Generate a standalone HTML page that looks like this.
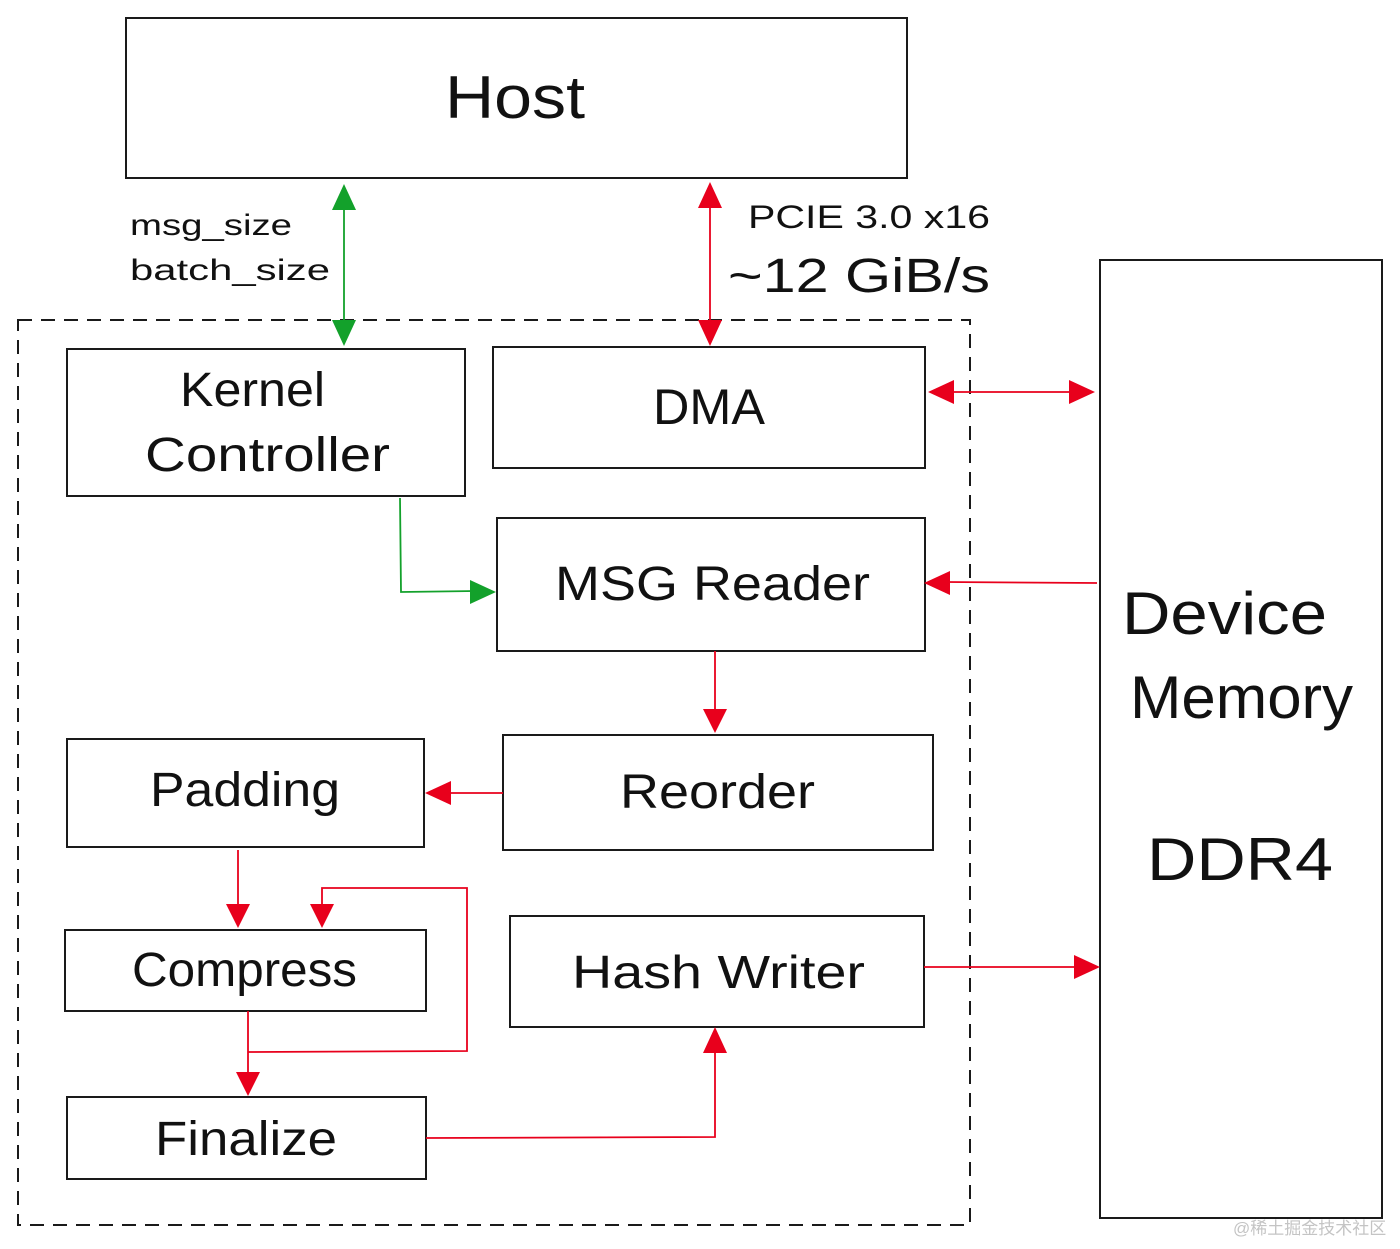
<!DOCTYPE html>
<html><head><meta charset="utf-8"><style>
html,body{margin:0;padding:0;background:#fff;}
svg text{font-family:"Liberation Sans","Noto Sans CJK SC",sans-serif;fill:#111;}
</style></head><body>
<svg width="1400" height="1244" viewBox="0 0 1400 1244" xmlns="http://www.w3.org/2000/svg">
<g fill="none" stroke="#1a1a1a" stroke-width="2">
<rect x="126" y="18" width="781" height="160"/>
<rect x="18" y="320" width="952" height="905" stroke-dasharray="14 9"/>
<rect x="67" y="349" width="398" height="147"/>
<rect x="493" y="347" width="432" height="121"/>
<rect x="497" y="518" width="428" height="133"/>
<rect x="503" y="735" width="430" height="115"/>
<rect x="67" y="739" width="357" height="108"/>
<rect x="65" y="930" width="361" height="81"/>
<rect x="510" y="916" width="414" height="111"/>
<rect x="67" y="1097" width="359" height="82"/>
<rect x="1100" y="260" width="282" height="958"/>
</g>
<g fill="none" stroke-width="1.8">
<path d="M344,200 L344,330" stroke="#13a12b"/>
<path d="M400,498 L401,592 L476,591" stroke="#13a12b"/>
<g stroke="#e8001c">
<path d="M710,200 L710,330"/>
<path d="M945,392 L1075,392"/>
<path d="M1097,583 L945,582"/>
<path d="M715,651 L715,712"/>
<path d="M503,793 L445,793"/>
<path d="M238,850 L238,908"/>
<path d="M248,1052 L467,1051 L467,888 L322,888 L322,908"/>
<path d="M248,1011 L248,1076"/>
<path d="M426,1138 L715,1137 L715,1048"/>
<path d="M924,967 L1080,967"/>
</g>
</g>
<g fill="#13a12b">
<polygon points="344,184 332,210 356,210"/>
<polygon points="344,346 332,320 356,320"/>
<polygon points="496,592 470,580 470,604"/>
</g>
<g fill="#e8001c">
<polygon points="710,182 698,208 722,208"/>
<polygon points="710,346 698,320 722,320"/>
<polygon points="928,392 954,380 954,404"/>
<polygon points="1095,392 1069,380 1069,404"/>
<polygon points="924,583 950,571 950,595"/>
<polygon points="715,733 703,709 727,709"/>
<polygon points="425,793 451,781 451,805"/>
<polygon points="238,928 226,904 250,904"/>
<polygon points="322,928 310,904 334,904"/>
<polygon points="248,1096 236,1072 260,1072"/>
<polygon points="715,1027 703,1053 727,1053"/>
<polygon points="1100,967 1074,955 1074,979"/>
</g>
<g lengthAdjust="spacingAndGlyphs">
<text x="445" y="118" font-size="60" textLength="140" lengthAdjust="spacingAndGlyphs">Host</text>
<text x="180" y="406" font-size="48" textLength="145" lengthAdjust="spacingAndGlyphs">Kernel</text>
<text x="145" y="471" font-size="48" textLength="245" lengthAdjust="spacingAndGlyphs">Controller</text>
<text x="653" y="424" font-size="50" textLength="112" lengthAdjust="spacingAndGlyphs">DMA</text>
<text x="555" y="600" font-size="48" textLength="315" lengthAdjust="spacingAndGlyphs">MSG Reader</text>
<text x="620" y="808" font-size="48" textLength="195" lengthAdjust="spacingAndGlyphs">Reorder</text>
<text x="150" y="806" font-size="48" textLength="190" lengthAdjust="spacingAndGlyphs">Padding</text>
<text x="132" y="986" font-size="48" textLength="225" lengthAdjust="spacingAndGlyphs">Compress</text>
<text x="572" y="988" font-size="46" textLength="293" lengthAdjust="spacingAndGlyphs">Hash Writer</text>
<text x="155" y="1155" font-size="48" textLength="182" lengthAdjust="spacingAndGlyphs">Finalize</text>
<text x="1122" y="634" font-size="60" textLength="205" lengthAdjust="spacingAndGlyphs">Device</text>
<text x="1130" y="718" font-size="60" textLength="223" lengthAdjust="spacingAndGlyphs">Memory</text>
<text x="1147" y="880" font-size="60" textLength="186" lengthAdjust="spacingAndGlyphs">DDR4</text>
<text x="130" y="235" font-size="30" textLength="162" lengthAdjust="spacingAndGlyphs">msg_size</text>
<text x="130" y="280" font-size="30" textLength="200" lengthAdjust="spacingAndGlyphs">batch_size</text>
<text x="748" y="228" font-size="32" textLength="242" lengthAdjust="spacingAndGlyphs">PCIE 3.0 x16</text>
<text x="728" y="292" font-size="48" textLength="262" lengthAdjust="spacingAndGlyphs">~12 GiB/s</text>
</g>
<text x="1233" y="1234" font-size="17" style="fill:#c4c4c4">@稀土掘金技术社区</text>
</svg>
</body></html>
